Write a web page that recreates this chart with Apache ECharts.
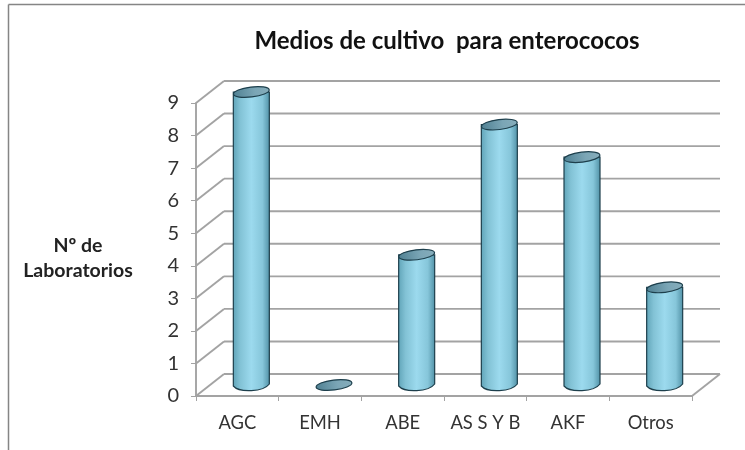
<!DOCTYPE html>
<html>
<head>
<meta charset="utf-8">
<style>
html, body { margin: 0; padding: 0; background: #fff; }
#chart { width: 745px; height: 450px; }
</style>
<script src="https://cdn.jsdelivr.net/npm/echarts@6/dist/echarts.min.js"></script>
</head>
<body>
<div id="chart"></div>
<script>
var categories = ['AGC', 'EMH', 'ABE', 'AS S Y B', 'AKF', 'Otros'];
var laboratorios = [9, 0, 4, 8, 7, 3];
var wallTicks = [0, 1, 2, 3, 4, 5, 6, 7, 8, 9];

// depth of the fake 3d box, in pixels
var DEPTH_X = 28;
var DEPTH_Y = 22;
var LINE_COLOR = '#a3a3a3';
var FONT = 'Lato, "Open Sans", sans-serif';

function renderWall(params, api) {
    var y = api.coord([0, api.value(0)])[1];
    var sys = params.coordSys;
    var left = sys.x, right = sys.x + sys.width;
    var style = { stroke: LINE_COLOR, lineWidth: 1.9, fill: null };
    var children = [
        { type: 'line', shape: { x1: left, y1: y, x2: left + DEPTH_X, y2: y - DEPTH_Y }, style: style },
        { type: 'line', shape: { x1: left + DEPTH_X, y1: y - DEPTH_Y, x2: right + DEPTH_X, y2: y - DEPTH_Y }, style: style }
    ];
    if (api.value(0) === 0) {
        children.push({ type: 'line', shape: { x1: right, y1: y, x2: right + DEPTH_X, y2: y - DEPTH_Y }, style: style });
    }
    return { type: 'group', children: children };
}

function renderCylinder(params, api) {
    var top = api.coord([api.value(0), api.value(1)]);
    var base = api.coord([api.value(0), 0]);
    var cx = top[0] + DEPTH_X / 2;
    var topY = top[1] - DEPTH_Y / 2;
    var baseY = base[1] - DEPTH_Y / 2;
    var rx = 18, ry = 5;
    var outline = '#1d3f4c';
    var tilt = 0.12;
    var children = [];
    if (api.value(1) > 0) {
        children.push({
            type: 'path',
            shape: {
                pathData: 'M' + (cx - rx) + ' ' + topY +
                    ' L' + (cx - rx) + ' ' + (baseY + 1) +
                    ' C' + (cx - rx + 6) + ' ' + (baseY + 8) + ' ' + (cx + rx - 6) + ' ' + (baseY + 7) + ' ' + (cx + rx) + ' ' + (baseY - 1) +
                    ' L' + (cx + rx) + ' ' + topY + ' Z'
            },
            style: {
                fill: new echarts.graphic.LinearGradient(0, 0, 1, 0, [
                    { offset: 0, color: '#5fa3b7' },
                    { offset: 0.2, color: '#82c2d5' },
                    { offset: 0.5, color: '#9cdaee' },
                    { offset: 0.8, color: '#86c6da' },
                    { offset: 1, color: '#4f8fa4' }
                ]),
                stroke: outline,
                lineWidth: 1.2
            }
        });
    }
    children.push({
        type: 'ellipse',
        shape: { cx: cx, cy: topY, rx: rx, ry: ry },
        rotation: tilt,
        originX: cx,
        originY: topY,
        style: {
            fill: new echarts.graphic.LinearGradient(0, 0, 1, 0, [
                { offset: 0, color: '#4f8092' },
                { offset: 0.6, color: '#7ba6b6' },
                { offset: 1, color: '#86adbb' }
            ]),
            stroke: outline,
            lineWidth: 1.2
        }
    });
    return { type: 'group', children: children };
}

var chart = echarts.init(document.getElementById('chart'), null, { renderer: 'canvas' });
chart.setOption({
    animation: false,
    backgroundColor: '#ffffff',
    title: {
        text: 'Medios de cultivo  para enterococos',
        left: 442,
        top: 24,
        textAlign: 'center',
        textStyle: { fontFamily: FONT, fontSize: 24, fontWeight: 'bold', color: '#111' }
    },
    grid: { left: 196, right: 53, top: 103, bottom: 54 },
    xAxis: {
        type: 'category',
        data: categories,
        axisLine: { lineStyle: { color: LINE_COLOR, width: 1.9 } },
        axisTick: { show: true, alignWithLabel: false, length: 5, lineStyle: { color: LINE_COLOR } },
        axisLabel: { interval: 0, fontFamily: FONT, fontSize: 18.4, color: '#333', margin: 18 }
    },
    yAxis: {
        type: 'value',
        min: 0,
        max: 9,
        interval: 1,
        splitLine: { show: false },
        axisLine: { show: true, lineStyle: { color: LINE_COLOR, width: 1.9 } },
        axisTick: { show: true, length: 5, lineStyle: { color: LINE_COLOR } },
        axisLabel: { fontFamily: FONT, fontSize: 20, color: '#333', margin: 17 }
    },
    series: [
        {
            type: 'custom',
            coordinateSystem: 'cartesian2d',
            renderItem: renderWall,
            data: wallTicks.map(function (t) { return [t]; }),
            encode: { y: 0 },
            silent: true,
            z: 1
        },
        {
            type: 'custom',
            coordinateSystem: 'cartesian2d',
            renderItem: renderCylinder,
            data: laboratorios.map(function (v, i) { return [i, v]; }),
            encode: { x: 0, y: 1 },
            z: 3
        }
    ],
    graphic: [
        { type: 'line', shape: { x1: 8.5, y1: 4.5, x2: 745, y2: 4.5 }, style: { stroke: '#858585', lineWidth: 1.5 } },
        { type: 'line', shape: { x1: 8.5, y1: 4.5, x2: 8.5, y2: 450 }, style: { stroke: '#858585', lineWidth: 1.5 } },
        {
            type: 'text',
            x: 78,
            y: 233,
            style: {
                text: 'Nº de\nLaboratorios',
                align: 'center',
                lineHeight: 25,
                font: 'bold 19.5px ' + FONT,
                fill: '#222'
            }
        }
    ]
});
</script>
</body>
</html>
